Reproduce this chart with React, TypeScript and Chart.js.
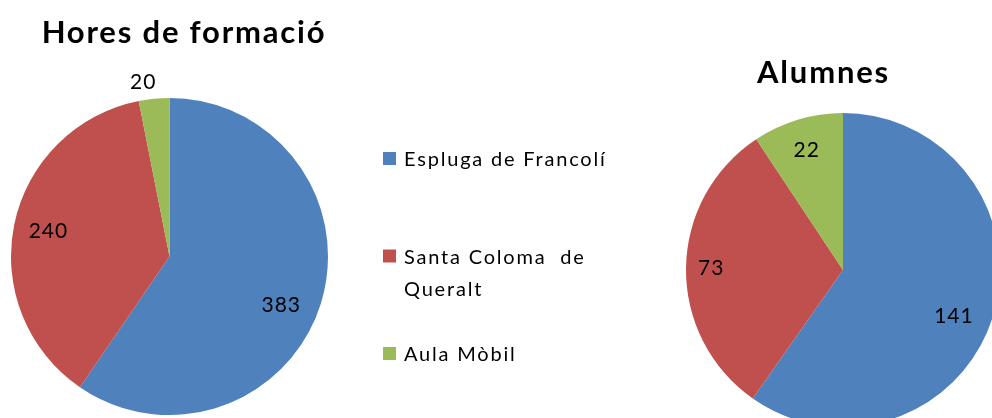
import React, { useEffect, useRef } from "react";
import { Chart, registerables } from "chart.js";

Chart.register(...registerables);

// ---- data ----
const categories = ["Espluga de Francolí", "Santa Coloma  de Queralt", "Aula Mòbil"];
const hoursValues = [383, 240, 20];
const studentValues = [141, 73, 22];
const sliceColors = ["#4F81BD", "#C0504D", "#9BBB59"];
const chartTitles = ["Hores de formació", "Alumnes"];

const FRAME_W = 1050;
const FRAME_H = 460;
const FONT = "Lato, 'Open Sans', sans-serif";

// draws the value label of each slice
const sliceLabels = {
  id: "sliceLabels",
  afterDatasetsDraw(chart: any, _args: any, opts: any) {
    const ctx = chart.ctx;
    const meta = chart.getDatasetMeta(0);
    const data = chart.data.datasets[0].data as number[];
    ctx.save();
    ctx.font = `${opts.size}px ${FONT}`;
    (ctx as any).letterSpacing = opts.spacing;
    ctx.fillStyle = "#000";
    ctx.textAlign = "center";
    ctx.textBaseline = "middle";
    meta.data.forEach((arc: any, i: number) => {
      const p = arc.getProps(["x", "y", "startAngle", "endAngle", "outerRadius"], true);
      const mid = (p.startAngle + p.endAngle) / 2 + ((opts.angleShift?.[i] || 0) * Math.PI) / 180;
      const r = p.outerRadius * opts.radius[i];
      ctx.fillText(String(data[i]), p.x + Math.cos(mid) * r, p.y + Math.sin(mid) * r);
    });
    ctx.restore();
  },
};

// draws a title at a given spot
const titleText = {
  id: "titleText",
  afterDraw(chart: any, _args: any, opts: any) {
    if (!opts.text) return;
    const ctx = chart.ctx;
    ctx.save();
    ctx.font = `bold ${opts.size}px ${FONT}`;
    (ctx as any).letterSpacing = opts.spacing;
    ctx.fillStyle = "#000";
    ctx.textAlign = "center";
    ctx.textBaseline = "alphabetic";
    ctx.fillText(opts.text, opts.x, opts.y);
    ctx.restore();
  },
};

// draws the shared legend
const sideLegend = {
  id: "sideLegend",
  afterDraw(chart: any, _args: any, opts: any) {
    if (!opts.show) return;
    const ctx = chart.ctx;
    const labels = chart.data.labels as string[];
    const colors = chart.data.datasets[0].backgroundColor as string[];
    ctx.save();
    ctx.font = `${opts.size}px ${FONT}`;
    (ctx as any).letterSpacing = opts.spacing;
    ctx.textBaseline = "alphabetic";
    ctx.textAlign = "left";
    labels.forEach((label, i) => {
      const base = opts.y + i * opts.pitch;
      ctx.fillStyle = colors[i];
      ctx.fillRect(opts.x, base - opts.box - 1, opts.box, opts.box);
      ctx.fillStyle = "#000";
      // simple word wrap
      const words = label.split(" ");
      const lines: string[] = [];
      let cur = "";
      words.forEach((w) => {
        const test = cur ? cur + " " + w : w;
        if (cur && ctx.measureText(test).width > opts.maxWidth) {
          lines.push(cur);
          cur = w;
        } else cur = test;
      });
      if (cur) lines.push(cur);
      lines.forEach((ln, j) => ctx.fillText(ln, opts.x + opts.box + 8, base + j * opts.lineHeight));
    });
    ctx.restore();
  },
};

function PieCanvas(props: {
  values: number[];
  title: string;
  padding: any;
  titlePos: { x: number; y: number };
  labelRadius: number[];
  angleShift: number[];
  legend: boolean;
}) {
  const ref = useRef<HTMLCanvasElement | null>(null);
  useEffect(() => {
    if (!ref.current) return;
    const chart = new Chart(ref.current, {
      type: "pie",
      data: {
        labels: categories,
        datasets: [
          {
            data: props.values,
            backgroundColor: sliceColors,
            borderWidth: 0,
          },
        ],
      },
      options: {
        responsive: false,
        animation: false,
        layout: { padding: props.padding },
        events: [],
        plugins: {
          legend: { display: false },
          title: { display: false },
          tooltip: { enabled: false },
          sliceLabels: { size: 21, spacing: "1px", radius: props.labelRadius, angleShift: props.angleShift },
          titleText: { text: props.title, size: 31, spacing: "1.8px", x: props.titlePos.x, y: props.titlePos.y },
          sideLegend: {
            show: props.legend,
            x: 383,
            y: 166,
            pitch: 97.5,
            box: 13,
            size: 20,
            spacing: "1.8px",
            lineHeight: 32,
            maxWidth: 215,
          },
        } as any,
      },
      plugins: [sliceLabels, titleText, sideLegend],
    });
    return () => chart.destroy();
  }, []);
  return (
    <canvas
      ref={ref}
      width={FRAME_W}
      height={FRAME_H}
      style={{ position: "absolute", left: 0, top: 0, width: FRAME_W, height: FRAME_H }}
    />
  );
}

export default function App() {
  return (
    <div
      style={{
        position: "fixed",
        left: 0,
        top: 0,
        width: 992,
        height: 418,
        overflow: "hidden",
        background: "#fff",
      }}
    >
      <PieCanvas
        values={hoursValues}
        title={chartTitles[0]}
        padding={{ left: 11, top: 98, right: FRAME_W - 328, bottom: FRAME_H - 415 }}
        titlePos={{ x: 184, y: 43 }}
        labelRadius={[0.77, 0.78, 1.11]}
        angleShift={[6.5, 0, -3]}
        legend={true}
      />
      <PieCanvas
        values={studentValues}
        title={chartTitles[1]}
        padding={{ left: 686, top: 113, right: FRAME_W - 1000, bottom: FRAME_H - 427 }}
        titlePos={{ x: 823.5, y: 83 }}
        labelRadius={[0.765, 0.84, 0.8]}
        angleShift={[5, 0, 0]}
        legend={false}
      />
    </div>
  );
}
